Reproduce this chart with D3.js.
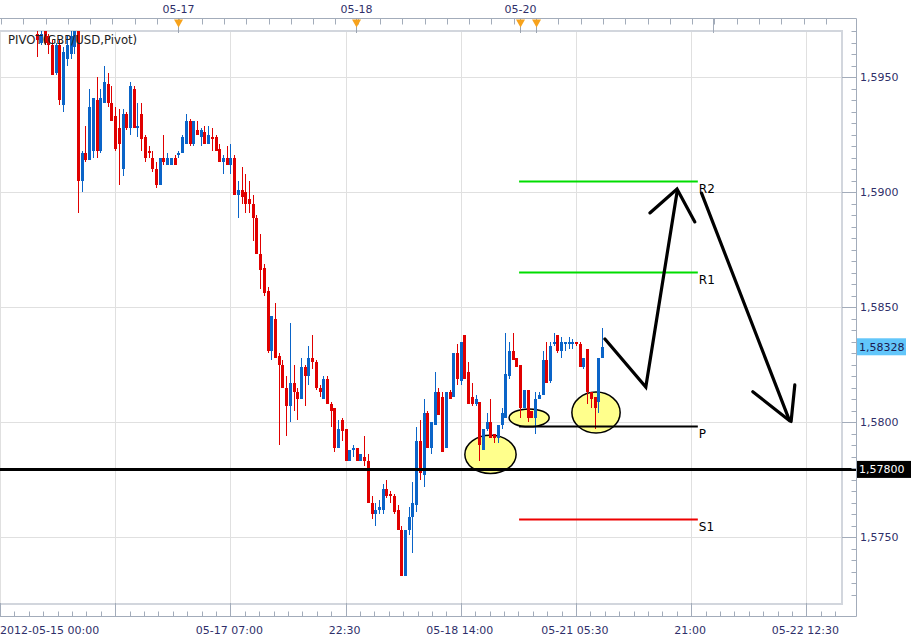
<!DOCTYPE html>
<html><head><meta charset="utf-8">
<script src="https://cdn.jsdelivr.net/npm/d3@7"></script>
<style>
body{margin:0;background:#fff;}
svg{display:block;font-family:"DejaVu Sans",Verdana,sans-serif;}
</style>
</head><body>
<svg id="chart" width="913" height="641"></svg>
<script>
// ---------------- DATA ----------------
const title = "PIVOT(GBP/USD,Pivot)";
const startIndex = 10; // first candle slot (30-minute bars)
const open = [1.5969,1.5965,1.5970,1.5968,1.5964,1.5952,1.5964,1.5938,1.5958,1.5960,1.5963,1.5971,1.5905,1.5917,1.5914,1.5918,1.5940,1.5918,1.5939,1.5947,
1.5939,1.5933,1.5928,1.5910,1.5934,1.5928,1.5945,1.5928,1.5934,1.5924,1.5918,1.5915,1.5910,1.5903,1.5915,1.5912,1.5912,1.5915,1.5916,1.5917,
1.5921,1.5931,1.5921,1.5927,1.5924,1.5926,1.5921,1.5924,1.5924,1.5919,1.5913,1.5915,1.5912,1.5915,1.5899,1.5901,1.5900,1.5897,1.5895,1.5889,
1.5873,1.5867,1.5857,1.5831,1.5845,1.5829,1.5825,1.5815,1.5807,1.5817,1.5813,1.5810,1.5824,1.5820,1.5828,1.5826,1.5815,1.5810,1.5819,1.5808,
1.5806,1.5789,1.5801,1.5797,1.5783,1.5788,1.5789,1.5783,1.5785,1.5783,1.5765,1.5760,1.5762,1.5762,1.5771,1.5769,1.5768,1.5762,1.5753,1.5733,
1.5753,1.5759,1.5764,1.5792,1.5777,1.5804,1.5789,1.5799,1.5813,1.5811,1.5789,1.5813,1.5811,1.5830,1.5818,1.5838,1.5822,1.5811,1.5808,1.5809,
1.5788,1.5797,1.5800,1.5795,1.5793,1.5799,1.5802,1.5820,1.5831,1.5828,1.5825,1.5806,1.5814,1.5805,1.5802,1.5810,1.5812,1.5827,1.5818,1.5834,
1.5838,1.5831,1.5834,1.5834,1.5834,1.5835,1.5834,1.5824,1.5832,1.5813,1.5811,1.5809,1.5828];
const high = [1.5970,1.5970,1.5971,1.5969,1.5966,1.5965,1.5966,1.5963,1.5968,1.5970,1.5971,1.5975,1.5918,1.5929,1.5945,1.5941,1.5950,1.5945,1.5955,1.5952,
1.5946,1.5937,1.5936,1.5936,1.5935,1.5948,1.5946,1.5939,1.5939,1.5925,1.5920,1.5918,1.5913,1.5915,1.5925,1.5917,1.5915,1.5916,1.5918,1.5925,
1.5934,1.5932,1.5931,1.5931,1.5928,1.5929,1.5929,1.5928,1.5925,1.5921,1.5916,1.5920,1.5921,1.5916,1.5905,1.5911,1.5908,1.5905,1.5899,1.5890,
1.5882,1.5869,1.5859,1.5846,1.5852,1.5830,1.5827,1.5820,1.5843,1.5825,1.5815,1.5828,1.5825,1.5833,1.5838,1.5827,1.5816,1.5820,1.5820,1.5809,
1.5806,1.5801,1.5802,1.5797,1.5788,1.5790,1.5789,1.5786,1.5794,1.5786,1.5768,1.5765,1.5766,1.5773,1.5775,1.5770,1.5769,1.5764,1.5755,1.5753,
1.5763,1.5774,1.5798,1.5801,1.5810,1.5805,1.5800,1.5822,1.5815,1.5813,1.5813,1.5814,1.5830,1.5834,1.5835,1.5838,1.5826,1.5817,1.5812,1.5809,
1.5797,1.5804,1.5810,1.5795,1.5799,1.5806,1.5839,1.5835,1.5839,1.5828,1.5825,1.5814,1.5814,1.5805,1.5813,1.5813,1.5831,1.5835,1.5835,1.5839,
1.5838,1.5837,1.5835,1.5837,1.5836,1.5835,1.5835,1.5828,1.5832,1.5813,1.5811,1.5828,1.5841];
const low = [1.5959,1.5964,1.5964,1.5960,1.5951,1.5951,1.5938,1.5935,1.5955,1.5958,1.5960,1.5891,1.5900,1.5913,1.5914,1.5915,1.5915,1.5917,1.5939,1.5937,
1.5931,1.5918,1.5903,1.5907,1.5927,1.5925,1.5928,1.5924,1.5918,1.5913,1.5915,1.5909,1.5902,1.5903,1.5912,1.5912,1.5912,1.5912,1.5915,1.5917,
1.5921,1.5920,1.5920,1.5925,1.5920,1.5921,1.5921,1.5918,1.5918,1.5913,1.5908,1.5912,1.5908,1.5899,1.5889,1.5895,1.5891,1.5891,1.5879,1.5873,
1.5858,1.5855,1.5830,1.5827,1.5828,1.5790,1.5815,1.5794,1.5800,1.5805,1.5801,1.5810,1.5807,1.5816,1.5823,1.5814,1.5811,1.5810,1.5808,1.5798,
1.5787,1.5789,1.5792,1.5783,1.5783,1.5785,1.5783,1.5783,1.5781,1.5765,1.5758,1.5755,1.5760,1.5760,1.5767,1.5765,1.5760,1.5753,1.5733,1.5733,
1.5751,1.5743,1.5761,1.5775,1.5772,1.5789,1.5786,1.5799,1.5803,1.5787,1.5789,1.5810,1.5811,1.5816,1.5816,1.5819,1.5808,1.5807,1.5807,1.5783,
1.5788,1.5796,1.5793,1.5791,1.5791,1.5797,1.5802,1.5819,1.5827,1.5824,1.5802,1.5806,1.5800,1.5802,1.5795,1.5810,1.5812,1.5817,1.5817,1.5833,
1.5830,1.5828,1.5831,1.5832,1.5832,1.5833,1.5824,1.5823,1.5808,1.5806,1.5797,1.5804,1.5828];
const close = [1.5966,1.5969,1.5965,1.5964,1.5951,1.5964,1.5940,1.5961,1.5964,1.5968,1.5970,1.5905,1.5917,1.5914,1.5937,1.5941,1.5918,1.5941,1.5948,1.5939,
1.5931,1.5919,1.5921,1.5934,1.5928,1.5946,1.5928,1.5929,1.5923,1.5915,1.5917,1.5910,1.5903,1.5915,1.5913,1.5915,1.5915,1.5912,1.5917,1.5924,
1.5931,1.5921,1.5931,1.5925,1.5927,1.5921,1.5925,1.5923,1.5918,1.5913,1.5915,1.5912,1.5915,1.5899,1.5901,1.5898,1.5895,1.5895,1.5889,1.5873,
1.5866,1.5856,1.5831,1.5846,1.5828,1.5825,1.5815,1.5807,1.5817,1.5813,1.5810,1.5824,1.5820,1.5828,1.5826,1.5815,1.5813,1.5819,1.5808,1.5805,
1.5789,1.5797,1.5796,1.5783,1.5788,1.5789,1.5783,1.5786,1.5783,1.5765,1.5760,1.5762,1.5763,1.5771,1.5768,1.5768,1.5761,1.5753,1.5733,1.5753,
1.5759,1.5765,1.5792,1.5778,1.5804,1.5789,1.5800,1.5813,1.5803,1.5787,1.5813,1.5810,1.5830,1.5819,1.5835,1.5819,1.5808,1.5808,1.5810,1.5790,
1.5797,1.5800,1.5793,1.5793,1.5799,1.5804,1.5821,1.5831,1.5827,1.5824,1.5806,1.5814,1.5802,1.5802,1.5810,1.5812,1.5827,1.5817,1.5833,1.5835,
1.5831,1.5835,1.5835,1.5835,1.5835,1.5834,1.5824,1.5828,1.5813,1.5810,1.5806,1.5828,1.58328];

const lastPrice = 1.58328;
const supportLevel = 1.5780;
const pivotLevels = [
  {name:"R2", value:1.59048, color:"#00dd00"},
  {name:"R1", value:1.58651, color:"#00dd00"},
  {name:"P",  value:1.57985, color:"#000000"},
  {name:"S1", value:1.57580, color:"#ee0000"}
];
const pivotFrom = 139.7, pivotTo = 187.8;           // candle-slot range of pivot segments

// x axis (slot index) grid / labels
const xGridSlots  = [0,31,62,93,124,155,186,217];
const xGridLabels = ["2012-05-15 00:00","","05-17 07:00","22:30","05-18 14:00","05-21 05:30","21:00","05-22 12:30"];
// y axis ticks
const yMajorTicks = [1.575,1.580,1.585,1.590,1.595];
// top navigator markers
const topMarkers = [{label:"05-17",slot:47.98},{label:"05-18",slot:95.8},{label:"05-20",slot:139.94},{label:"",slot:144.17}];

// highlight ellipses: [centre slot, centre price, radius (slots), radius (price)]
const ellipses = [[132.0,1.57860,6.9,0.00083],[142.4,1.58019,5.4,0.00039],[160.4,1.58042,6.5,0.00089]];
// hand-drawn arrows: polylines in [slot, price]
const arrows = [
  [[162.8,1.58362],[173.8,1.58153],[182.2,1.59000]],
  [[174.9,1.58910],[182.2,1.59014],[187.0,1.58871]],
  [[188.8,1.58996],[212.4,1.58010]],
  [[202.6,1.58133],[212.5,1.58006]],
  [[213.9,1.58162],[212.9,1.58003]]
];

// ---------------- CHART ----------------
const svg = d3.select("#chart");
const P = {left:0, right:842, top:31, bottom:603};
const axisRight = 856.5, axisTop = 18.5, axisBottom = 616.5;
const x = d3.scaleLinear().domain([0,226.6]).range([P.left,P.right]);
const y = d3.scaleLinear().domain([1.57214,1.59701]).range([P.bottom,P.top]);
const axisCol = "#a3acba", gridCol = "#e0e0e0", txtCol = "#2f2f6a";
const fmt = (v,d) => d3.format("."+d+"f")(v).replace(".",",");

svg.append("defs").append("clipPath").attr("id","pc")
  .append("rect").attr("x",P.left).attr("y",P.top).attr("width",P.right-P.left).attr("height",P.bottom-P.top);

// grid
const g = svg.append("g");
g.selectAll(".vg").data(xGridSlots).join("line")
  .attr("x1",d=>Math.round(x(d))+0.5).attr("x2",d=>Math.round(x(d))+0.5)
  .attr("y1",P.top).attr("y2",P.bottom).attr("stroke",gridCol);
g.selectAll(".hg").data(yMajorTicks).join("line")
  .attr("x1",P.left).attr("x2",P.right)
  .attr("y1",d=>Math.round(y(d))+0.5).attr("y2",d=>Math.round(y(d))+0.5).attr("stroke",gridCol);

// inner frame
svg.append("path").attr("d",`M${P.left},${P.top} H${P.right} V${P.bottom+1} H${P.left}`)
  .attr("fill","none").attr("stroke","#d2d6dd").attr("stroke-width",2);

const pg = svg.append("g").attr("clip-path","url(#pc)");

// ellipses (behind candles)
pg.selectAll(".el").data(ellipses).join("ellipse")
  .attr("cx",d=>x(d[0])).attr("cy",d=>y(d[1]))
  .attr("rx",d=>x(d[2])-x(0)).attr("ry",d=>y(0)-y(d[3]))
  .attr("fill","#ffff8c").attr("stroke","#000").attr("stroke-width",1.5);

// candles
const candles = open.map((o,k)=>({i:startIndex+k,o,h:high[k],l:low[k],c:close[k]}));
const cg = pg.append("g").attr("shape-rendering","crispEdges");
const col = d => d.c >= d.o ? "#0a64c8" : "#e00000";
cg.selectAll(".wick").data(candles).join("rect")
  .attr("x",d=>Math.round(x(d.i))).attr("width",1)
  .attr("y",d=>Math.round(y(d.h))).attr("height",d=>Math.max(1,Math.round(y(d.l))-Math.round(y(d.h))))
  .attr("fill",col);
cg.selectAll(".body").data(candles).join("rect")
  .attr("x",d=>Math.round(x(d.i))-1).attr("width",3)
  .attr("y",d=>Math.round(y(Math.max(d.o,d.c))))
  .attr("height",d=>Math.max(1,Math.round(y(Math.min(d.o,d.c)))-Math.round(y(Math.max(d.o,d.c)))))
  .attr("fill",col);

// pivot segments
svg.selectAll(".pv").data(pivotLevels).join("line")
  .attr("x1",x(pivotFrom)).attr("x2",x(pivotTo))
  .attr("y1",d=>Math.round(y(d.value))+0.5).attr("y2",d=>Math.round(y(d.value))+0.5)
  .attr("stroke",d=>d.color).attr("stroke-width",2);
svg.selectAll(".pvt").data(pivotLevels).join("text")
  .attr("x",x(pivotTo)+1).attr("y",d=>y(d.value)+12)
  .attr("font-size",12).attr("fill","#000").text(d=>d.name);

// support line (drawn from the level downwards, 3px thick)
svg.append("line").attr("x1",0).attr("x2",axisRight)
  .attr("y1",y(supportLevel)+1.2).attr("y2",y(supportLevel)+1.2)
  .attr("stroke","#000").attr("stroke-width",3);

// arrows
const ln = d3.line().x(d=>x(d[0])).y(d=>y(d[1]));
svg.selectAll(".ar").data(arrows).join("path")
  .attr("d",ln).attr("fill","none").attr("stroke","#000").attr("stroke-width",3.2)
  .attr("stroke-linecap","round").attr("stroke-linejoin","miter");

// title
svg.append("text").attr("x",8).attr("y",44).attr("font-size",11.7).attr("fill","#222").text(title);

// ---- axes frame ----
svg.append("path").attr("d",`M0,${axisTop} H${axisRight} V${axisBottom} H0`)
  .attr("fill","none").attr("stroke",axisCol).attr("stroke-width",1);

// right axis ticks
const minorY = d3.range(1.5725,1.5971,0.0005);
svg.selectAll(".ryt").data(minorY).join("line")
  .attr("x1",axisRight-5).attr("x2",axisRight)
  .attr("y1",d=>Math.round(y(d))+0.5).attr("y2",d=>Math.round(y(d))+0.5).attr("stroke",axisCol);
svg.selectAll(".rYt").data(yMajorTicks).join("line")
  .attr("x1",P.right).attr("x2",axisRight)
  .attr("y1",d=>Math.round(y(d))+0.5).attr("y2",d=>Math.round(y(d))+0.5).attr("stroke",axisCol);
svg.selectAll(".rl").data(yMajorTicks).join("text")
  .attr("x",860).attr("y",d=>y(d)+4).attr("font-size",11).attr("fill",txtCol)
  .text(d=>fmt(d,4));

// bottom axis ticks
const minorX = d3.range(0,226,31/8);
svg.selectAll(".bxt").data(minorX).join("line")
  .attr("x1",d=>Math.round(x(d))+0.5).attr("x2",d=>Math.round(x(d))+0.5)
  .attr("y1",axisBottom-5).attr("y2",axisBottom).attr("stroke",axisCol);
svg.selectAll(".bXt").data(xGridSlots).join("line")
  .attr("x1",d=>Math.round(x(d))+0.5).attr("x2",d=>Math.round(x(d))+0.5)
  .attr("y1",P.bottom).attr("y2",axisBottom).attr("stroke",axisCol);
svg.selectAll(".bl").data(xGridSlots).join("text")
  .attr("x",(d,k)=>k===0?0:x(d)-1).attr("y",634)
  .attr("text-anchor",(d,k)=>k===0?"start":"middle")
  .attr("font-size",11).attr("fill",txtCol).text((d,k)=>xGridLabels[k]);

// top axis ticks
const topTicks = d3.range(0.27,228,6);
svg.selectAll(".txt").data(topTicks).join("line")
  .attr("x1",d=>Math.round(x(d))+0.5).attr("x2",d=>Math.round(x(d))+0.5)
  .attr("y1",axisTop).attr("y2",axisTop+6).attr("stroke",axisCol);
svg.append("line").attr("x1",Math.round(x(192))+0.5).attr("x2",Math.round(x(192))+0.5)
  .attr("y1",axisTop).attr("y2",P.top+2).attr("stroke",axisCol);
const mk = svg.selectAll(".mk").data(topMarkers).join("g")
  .attr("transform",d=>`translate(${Math.round(x(d.slot))+0.5},0)`);
mk.append("line").attr("x1",0).attr("x2",0).attr("y1",axisTop).attr("y2",P.top+2).attr("stroke","#9aa3b0");
mk.append("path").attr("d",`M-4.5,${axisTop+1} L4.5,${axisTop+1} L0,${axisTop+9} Z`).attr("fill","#f7a21b");
mk.append("text").attr("y",12.5).attr("text-anchor","middle").attr("font-size",11).attr("fill",txtCol).text(d=>d.label);

// price labels
const lastY = y(lastPrice);
svg.append("rect").attr("x",857).attr("y",lastY-8.5).attr("width",49).attr("height",17).attr("fill","#62c6fa");
svg.append("text").attr("x",859).attr("y",lastY+4).attr("font-size",11).attr("fill","#1a1a50").text(fmt(lastPrice,5));
const supY = y(supportLevel)+1.2;
svg.append("rect").attr("x",857).attr("y",supY-8.5).attr("width",54).attr("height",17).attr("fill","#000");
svg.append("text").attr("x",859).attr("y",supY+4).attr("font-size",11).attr("fill","#fff").text(fmt(supportLevel,5));
</script>
</body></html>
